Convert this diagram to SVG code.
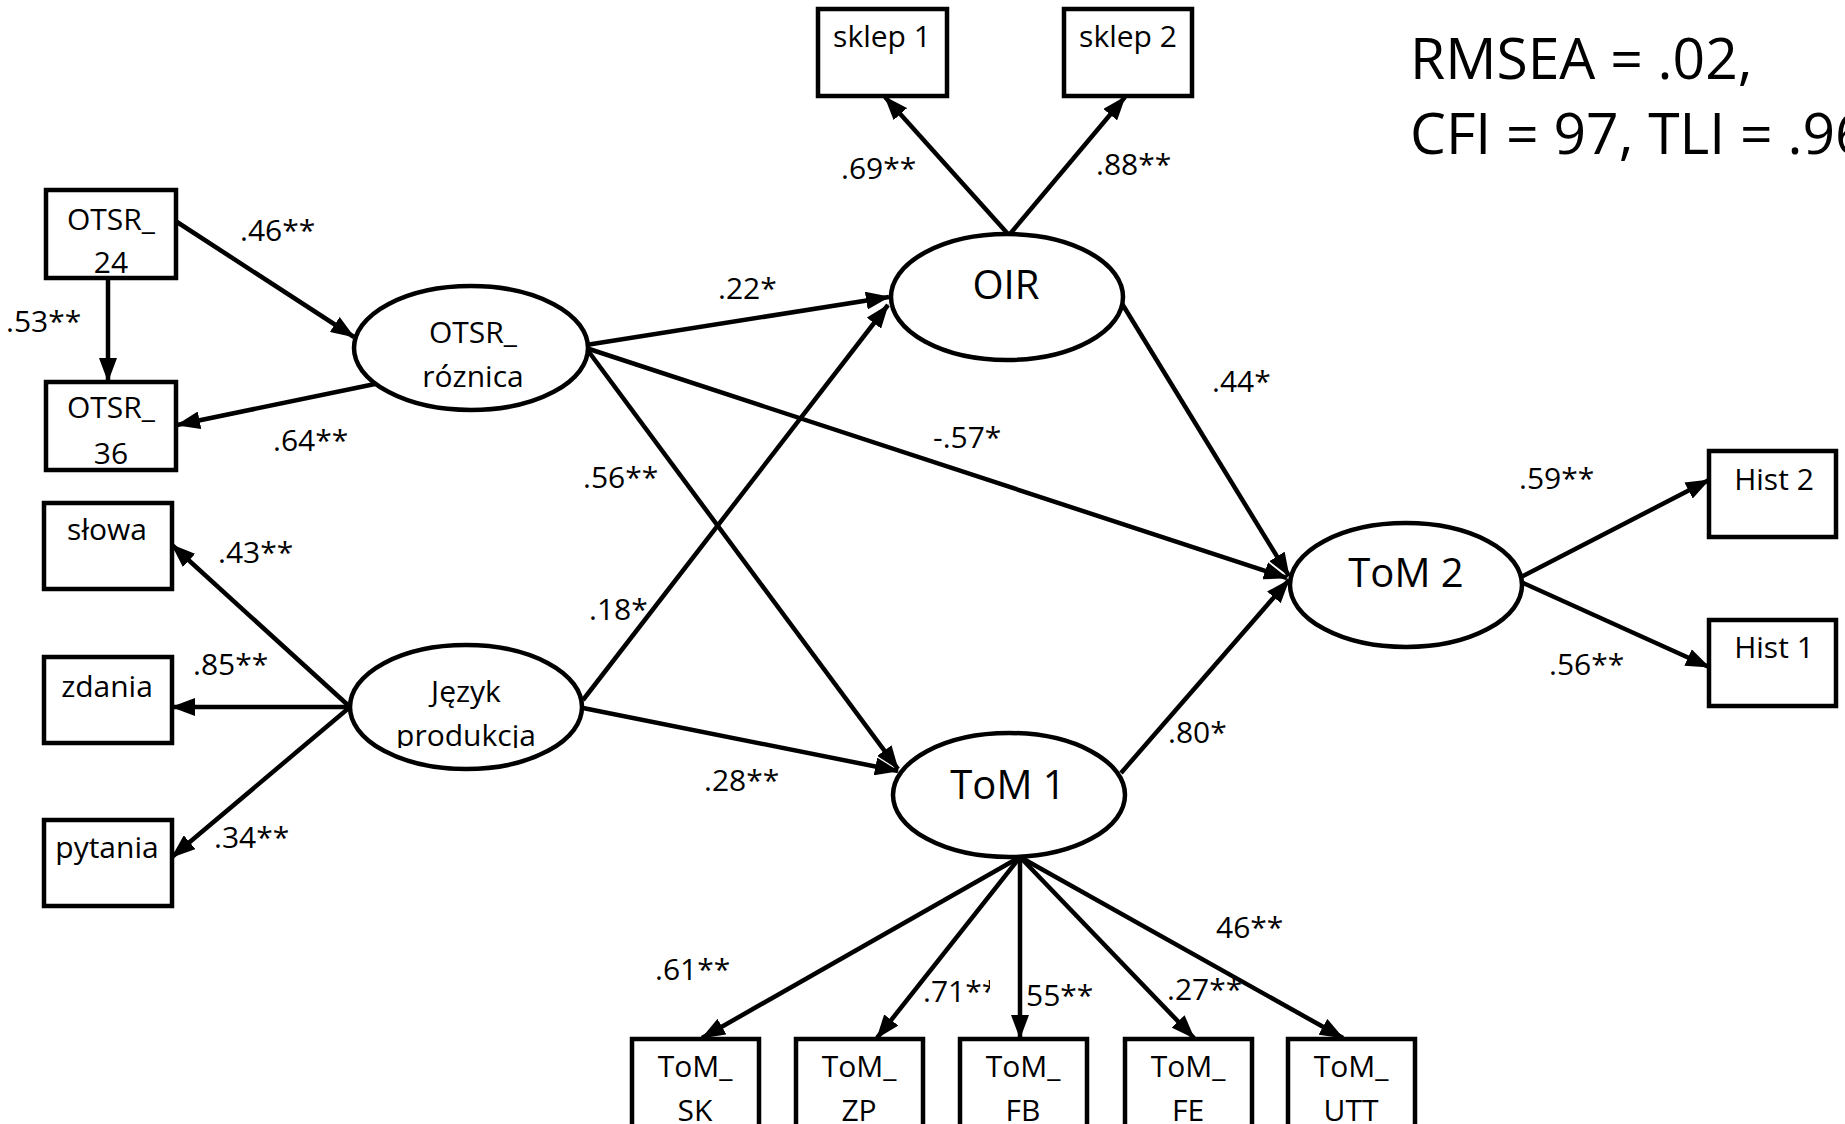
<svg xmlns="http://www.w3.org/2000/svg" width="1845" height="1124" viewBox="0 0 1845 1124">
<style>
.box{fill:#fff;stroke:#000;stroke-width:4.5}
.ell{fill:#fff;stroke:#000;stroke-width:4.5}
.edge{stroke:#000;stroke-width:4.5;fill:none;marker-end:url(#arr)}
text{font-family:"Open Sans",Lato,"Liberation Sans",sans-serif;fill:#000}
.n{font-size:30px;text-anchor:middle}
.big{font-size:40px;text-anchor:middle}
.lbl{font-size:30px}
.fit{font-size:57px}
</style>
<defs>
<marker id="arr" viewBox="0 0 24 18" refX="23" refY="9" markerWidth="24" markerHeight="18" markerUnits="userSpaceOnUse" orient="auto">
<path d="M0,0 L24,9 L0,18 z" fill="#000"/>
</marker>
<clipPath id="clipProd"><rect x="340" y="640" width="250" height="108"/></clipPath>
<clipPath id="clip71"><rect x="900" y="960" width="90" height="60"/></clipPath>
</defs>
<rect width="1845" height="1124" fill="#fff"/>

<g id="connectors">
<path class="edge" d="M177,222 L354,337"/>
<path class="edge" d="M108,278 L108,381"/>
<path class="edge" d="M375,384 L177,425"/>
<path class="edge" d="M350,707 L172,545"/>
<path class="edge" d="M350,707 L172,707"/>
<path class="edge" d="M350,707 L172,857"/>
<path class="edge" d="M586,345 L889,297"/>
<path class="edge" d="M586,348 L1287,578"/>
<path class="edge" d="M586,348 L898,769"/>
<path class="edge" d="M583,700 L888,305"/>
<path class="edge" d="M583,708 L898,771"/>
<path class="edge" d="M1008,234 L885,97"/>
<path class="edge" d="M1010,234 L1125,97"/>
<path class="edge" d="M1121,302 L1289,576"/>
<path class="edge" d="M1121,773 L1289,580"/>
<path class="edge" d="M1521,577 L1709,480"/>
<path class="edge" d="M1521,582 L1709,667"/>
<path class="edge" d="M1020,857 L702,1038"/>
<path class="edge" d="M1020,857 L877,1038"/>
<path class="edge" d="M1020,857 L1020,1038"/>
<path class="edge" d="M1020,857 L1194,1038"/>
<path class="edge" d="M1020,857 L1343,1038"/>
</g>

<g id="OTSR_24"><rect class="box" x="46" y="190" width="130" height="88"/><text class="n" x="111" y="230">OTSR_</text><text class="n" x="111" y="273">24</text></g>
<g id="OTSR_36"><rect class="box" x="46" y="382" width="130" height="88"/><text class="n" x="111" y="418">OTSR_</text><text class="n" x="111" y="464">36</text></g>
<g id="slowa"><rect class="box" x="44" y="503" width="128" height="86"/><text class="n" x="107" y="540">słowa</text></g>
<g id="zdania"><rect class="box" x="44" y="657" width="128" height="86"/><text class="n" x="107" y="697">zdania</text></g>
<g id="pytania"><rect class="box" x="44" y="820" width="128" height="86"/><text class="n" x="107" y="858">pytania</text></g>
<g id="sklep1"><rect class="box" x="818" y="9" width="129" height="87"/><text class="n" x="882" y="47">sklep 1</text></g>
<g id="sklep2"><rect class="box" x="1064" y="9" width="128" height="87"/><text class="n" x="1128" y="47">sklep 2</text></g>
<g id="Hist2"><rect class="box" x="1709" y="451" width="127" height="86"/><text class="n" x="1774" y="490">Hist 2</text></g>
<g id="Hist1"><rect class="box" x="1709" y="620" width="127" height="86"/><text class="n" x="1774" y="658">Hist 1</text></g>
<g id="ToM_SK"><rect class="box" x="632" y="1039" width="127" height="100"/><text class="n" x="695" y="1077">ToM_</text><text class="n" x="695" y="1121">SK</text></g>
<g id="ToM_ZP"><rect class="box" x="796" y="1039" width="127" height="100"/><text class="n" x="859" y="1077">ToM_</text><text class="n" x="859" y="1121">ZP</text></g>
<g id="ToM_FB"><rect class="box" x="960" y="1039" width="127" height="100"/><text class="n" x="1023" y="1077">ToM_</text><text class="n" x="1023" y="1121">FB</text></g>
<g id="ToM_FE"><rect class="box" x="1125" y="1039" width="127" height="100"/><text class="n" x="1188" y="1077">ToM_</text><text class="n" x="1188" y="1121">FE</text></g>
<g id="ToM_UTT"><rect class="box" x="1288" y="1039" width="127" height="100"/><text class="n" x="1351" y="1077">ToM_</text><text class="n" x="1351" y="1121">UTT</text></g>

<g id="OTSR_roznica"><ellipse class="ell" cx="471" cy="348" rx="117" ry="62"/><text class="n" x="473" y="343">OTSR_</text><text class="n" x="473" y="387">róznica</text></g>
<g id="Jezyk"><ellipse class="ell" cx="466" cy="707" rx="116" ry="62"/><text class="n" x="466" y="702">Język</text><text class="n" x="466" y="746" clip-path="url(#clipProd)">produkcja</text></g>
<g id="OIR"><ellipse class="ell" cx="1007" cy="297" rx="116" ry="63"/><text class="big" x="1006" y="299">OIR</text></g>
<g id="ToM1"><ellipse class="ell" cx="1009" cy="795" rx="116" ry="62"/><text class="big" x="1008" y="799">ToM 1</text></g>
<g id="ToM2"><ellipse class="ell" cx="1406" cy="585" rx="116" ry="62"/><text class="big" x="1406" y="587">ToM 2</text></g>

<g id="labels">
<text class="lbl" x="240" y="241">.46**</text>
<text class="lbl" x="6" y="332">.53**</text>
<text class="lbl" x="273" y="451">.64**</text>
<text class="lbl" x="218" y="563">.43**</text>
<text class="lbl" x="193" y="675">.85**</text>
<text class="lbl" x="214" y="848">.34**</text>
<text class="lbl" x="718" y="299">.22*</text>
<text class="lbl" x="583" y="488">.56**</text>
<text class="lbl" x="589" y="620">.18*</text>
<text class="lbl" x="933" y="448">-.57*</text>
<text class="lbl" x="704" y="791">.28**</text>
<text class="lbl" x="841" y="179">.69**</text>
<text class="lbl" x="1096" y="175">.88**</text>
<text class="lbl" x="1212" y="392">.44*</text>
<text class="lbl" x="1168" y="743">.80*</text>
<text class="lbl" x="1519" y="489">.59**</text>
<text class="lbl" x="1549" y="675">.56**</text>
<text class="lbl" x="655" y="980">.61**</text>
<text class="lbl" x="923" y="1002" clip-path="url(#clip71)">.71**</text>
<text class="lbl" x="1026" y="1006">55**</text>
<text class="lbl" x="1167" y="1000">.27**</text>
<text class="lbl" x="1216" y="938">46**</text>
</g>

<g id="fit">
<text class="fit" x="1410" y="79">RMSEA = .02,</text>
<text class="fit" x="1410" y="154">CFI = 97, TLI = .96</text>
</g>
</svg>
